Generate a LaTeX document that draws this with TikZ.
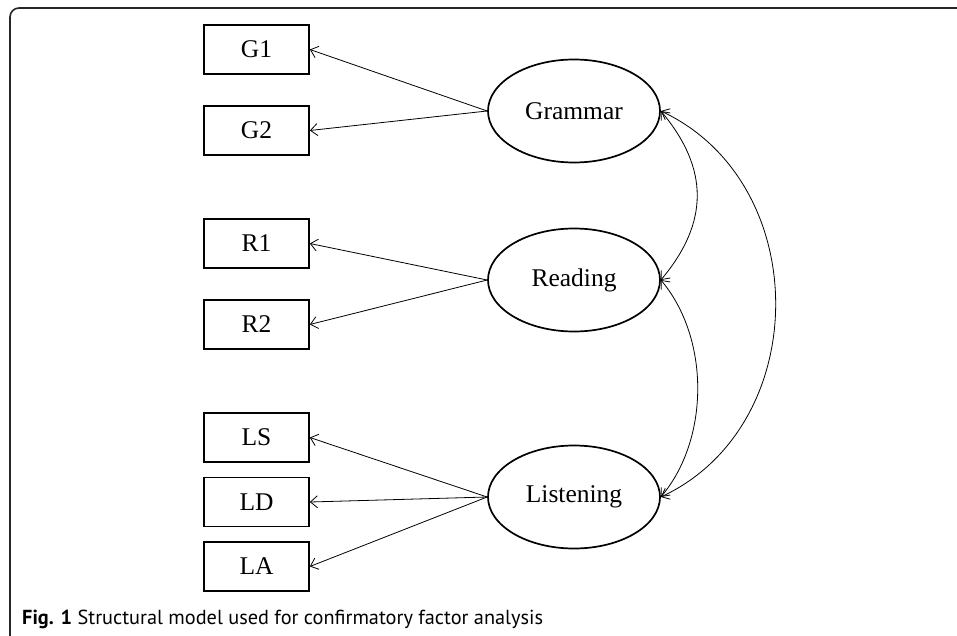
\documentclass[tikz,border=0pt]{standalone}
\usepackage{fontspec}
\setmainfont{Liberation Serif}
\newfontfamily\capfont{PT Sans}
\usetikzlibrary{shapes.geometric,arrows.meta,positioning}

\begin{document}
\begin{tikzpicture}[x=1pt, y=-1pt, >={Straight Barb[length=7pt,width=12pt]},
    obs/.style={draw, rectangle, line width=1.7pt, minimum width=105pt, minimum height=49pt, inner sep=0pt, font=\fontsize{25.5}{30}\selectfont},
    latent/.style={draw, ellipse, line width=1.7pt, minimum width=172pt, minimum height=103pt, inner sep=0pt, font=\fontsize{25.5}{30}\selectfont},
    load/.style={->, line width=0.8pt},
    cov/.style={<->, line width=0.8pt}]
    \useasboundingbox (0,0) rectangle (957,636);
    % frame of the figure
    \draw [line width=1.6pt, black!85, rounded corners=9pt] (965,8) -- (10,8) -- (10,645) -- (965,645);

    % observed variables
    \node [obs] (G1) at (256.5,49.5) {G1};
    \node [obs] (G2) at (256.5,130.5) {G2};
    \node [obs] (R1) at (256.5,243.5) {R1};
    \node [obs] (R2) at (256.5,324.5) {R2};
    \node [obs] (LS) at (256.5,437.5) {LS};
    \node [obs] (LD) at (256.5,502) {LD};
    \node [obs] (LA) at (256.5,566.5) {LA};

    % latent factors
    \node [latent] (gram) at (574,111) {Grammar};
    \node [latent] (read) at (574,280) {Reading};
    \node [latent] (list) at (574,497) {Listening};

    \draw [load] (gram.west) -- (G1.east);
    \draw [load] (gram.west) -- (G2.east);
    \draw [load] (read.west) -- (R1.east);
    \draw [load] (read.west) -- (R2.east);
    \draw [load] (list.west) -- (LS.east);
    \draw [load] (list.west) -- (LD.east);
    \draw [load] (list.west) -- (LA.east);

    % covariances
    \draw [cov] (gram.east) to[out=-50, in=50, looseness=1.14] (read.east);
    \draw [cov] (read.east) to[out=-50, in=50, looseness=0.9] (list.east);
    \draw [cov] (gram.east) to[out=-25, in=25, looseness=1.12] (list.east);

    \node [anchor=base west, inner sep=0pt, font=\capfont\fontsize{20.3}{24}\selectfont] (caption) at (22,624)
        {\textbf{Fig. 1} Structural model used for confirmatory factor analysis};
\end{tikzpicture}
\end{document}
